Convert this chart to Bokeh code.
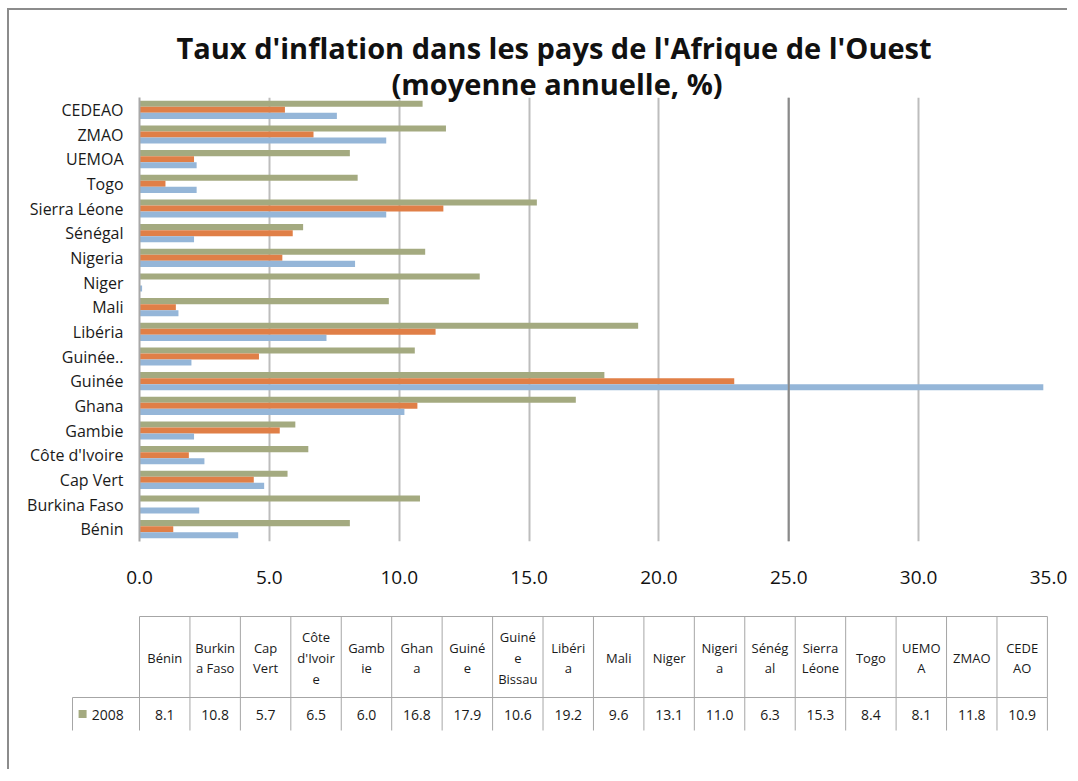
import numpy as np
from bokeh.plotting import figure
from bokeh.models import Range1d, FactorRange, ColumnDataSource, Title, Span, FixedTicker, NumeralTickFormatter
from bokeh.transform import dodge
from bokeh.core.properties import value
from bokeh.embed import file_html
from bokeh.resources import INLINE

# ---- data (bottom to top on the chart, left to right in the table) ----
countries = ["Bénin", "Burkina Faso", "Cap Vert", "Côte d'Ivoire", "Gambie", "Ghana",
             "Guinée", "Guinée Bissau", "Libéria", "Mali", "Niger", "Nigeria",
             "Sénégal", "Sierra Léone", "Togo", "UEMOA", "ZMAO", "CEDEAO"]
axis_labels = ["Bénin", "Burkina Faso", "Cap Vert", "Côte d'Ivoire", "Gambie", "Ghana",
               "Guinée", "Guinée..", "Libéria", "Mali", "Niger", "Nigeria",
               "Sénégal", "Sierra Léone", "Togo", "UEMOA", "ZMAO", "CEDEAO"]
table_headers = ["Bénin", "Burkin\na Faso", "Cap\nVert", "Côte\nd'Ivoir\ne", "Gamb\nie",
                 "Ghan\na", "Guiné\ne", "Guiné\ne\nBissau", "Libéri\na", "Mali", "Niger",
                 "Nigeri\na", "Sénég\nal", "Sierra\nLéone", "Togo", "UEMO\nA", "ZMAO",
                 "CEDE\nAO"]
v2008 = [8.1, 10.8, 5.7, 6.5, 6.0, 16.8, 17.9, 10.6, 19.2, 9.6, 13.1, 11.0, 6.3, 15.3, 8.4, 8.1, 11.8, 10.9]
v2007 = [1.3, 0.0, 4.4, 1.9, 5.4, 10.7, 22.9, 4.6, 11.4, 1.4, 0.0, 5.5, 5.9, 11.7, 1.0, 2.1, 6.7, 5.6]
v2006 = [3.8, 2.3, 4.8, 2.5, 2.1, 10.2, 34.8, 2.0, 7.2, 1.5, 0.1, 8.3, 2.1, 9.5, 2.2, 2.2, 9.5, 7.6]
x_ticks = [0, 5, 10, 15, 20, 25, 30, 35]
series_label = "2008"

GREEN = "#a4aa80"
ORANGE = "#e07f47"
BLUE = "#95b6d8"
FONT = "Open Sans"
BORDER = "2px solid #8c8c8c"

src = ColumnDataSource(dict(cat=axis_labels, v2008=v2008, v2007=v2007, v2006=v2006))

# ---------------- chart ----------------
p = figure(width=1060, height=595, output_backend="svg", toolbar_location=None,
           x_range=Range1d(0, 35), y_range=FactorRange(factors=axis_labels, range_padding=0),
           min_border_left=130, min_border_right=21, min_border_top=87, min_border_bottom=64,
           styles={"border-left": BORDER, "border-top": BORDER, "margin-left": "7px", "margin-top": "8px"})
p.title = None

t2 = Title(text="(moyenne annuelle, %)", align="left", offset=252,
           text_font=FONT, text_font_size="29px", text_font_style="bold", text_color="#111111",
           standoff=-11)
t1 = Title(text="Taux d'inflation dans les pays de l'Afrique de l'Ouest", align="left", offset=37,
           text_font=FONT, text_font_size="29px", text_font_style="bold", text_color="#111111",
           standoff=1)
p.add_layout(t2, "above")
p.add_layout(t1, "above")

h = 0.245
p.hbar(y=dodge("cat", h, range=p.y_range), right="v2008", left=0, height=h, source=src,
       fill_color=GREEN, line_color=None)
p.hbar(y=dodge("cat", 0, range=p.y_range), right="v2007", left=0, height=h, source=src,
       fill_color=ORANGE, line_color=None)
p.hbar(y=dodge("cat", -h, range=p.y_range), right="v2006", left=0, height=h, source=src,
       fill_color=BLUE, line_color=None)

p.xgrid.grid_line_color = "#bdbdbd"
p.xgrid.grid_line_width = 2
p.xgrid.ticker = FixedTicker(ticks=x_ticks)
p.ygrid.grid_line_color = None
p.add_layout(Span(location=x_ticks[5], dimension="height", line_color="#8a8a8a", line_width=2))

p.xaxis.ticker = FixedTicker(ticks=x_ticks)
p.xaxis.formatter = NumeralTickFormatter(format="0.0")
p.xaxis.axis_line_color = None
p.xaxis.major_tick_line_color = None
p.xaxis.minor_tick_line_color = None
p.xaxis.major_label_standoff = 23
p.xaxis.major_label_text_font = FONT
p.xaxis.major_label_text_font_size = "19px"
p.xaxis.major_label_text_color = "#111111"

p.yaxis.axis_line_color = "#a8a8a8"
p.yaxis.axis_line_width = 2
p.yaxis.major_tick_line_color = None
p.yaxis.minor_tick_line_color = None
p.yaxis.major_label_standoff = 10
p.yaxis.major_label_text_font = FONT
p.yaxis.major_label_text_font_size = "16px"
p.yaxis.major_label_text_color = "#1a1a1a"
p.outline_line_color = None

# ---------------- data table ----------------
n = len(countries)
col0_px, col_w = 139.0, 50.44
left_px, right_px = 9.0, 1069.0
t = figure(width=1060, height=166, output_backend="svg", toolbar_location=None,
           x_range=Range1d((left_px - col0_px) / col_w, n + (right_px - (col0_px + n * col_w)) / col_w),
           y_range=Range1d(166, 0), x_axis_location=None, y_axis_location=None,
           min_border=0, styles={"border-left": BORDER, "margin-left": "7px"})
t.grid.grid_line_color = None
t.outline_line_color = None

TOP, MID, BOT = 13, 94, 127
legend_left = -67.0 / col_w
edges = np.arange(n + 1)
LINE = "#a6a6a6"
t.segment(x0=edges, y0=TOP, x1=edges, y1=MID, line_color=LINE, line_width=1)
t.segment(x0=edges, y0=MID, x1=edges, y1=BOT, line_color=LINE, line_width=1)
t.segment(x0=[0, legend_left, legend_left], y0=[TOP, MID, MID], x1=[n, n, legend_left], y1=[TOP, MID, BOT],
          line_color=LINE, line_width=1)

centers = np.arange(n) + 0.5
t.text(x=centers, y=[(TOP + MID) / 2 + 1] * n, text=table_headers, text_align="center",
       text_baseline="middle", text_font=value(FONT), text_font_size="13px",
       text_line_height=1.15, text_color="#1a1a1a")
t.text(x=centers, y=[(MID + BOT) / 2 + 1] * n, text=[f"{v:.1f}" for v in v2008], text_align="center",
       text_baseline="middle", text_font=value(FONT), text_font_size="14px", text_color="#1a1a1a")
t.scatter(x=[legend_left + 0.2], y=[(MID + BOT) / 2], marker="square", size=8,
          fill_color=GREEN, line_color=None)
t.text(x=[legend_left + 0.38], y=[(MID + BOT) / 2 + 1], text=[series_label], text_align="left",
       text_baseline="middle", text_font=value(FONT), text_font_size="14px", text_color="#1a1a1a")

open("out.html", "w").write(file_html([p, t], INLINE))
